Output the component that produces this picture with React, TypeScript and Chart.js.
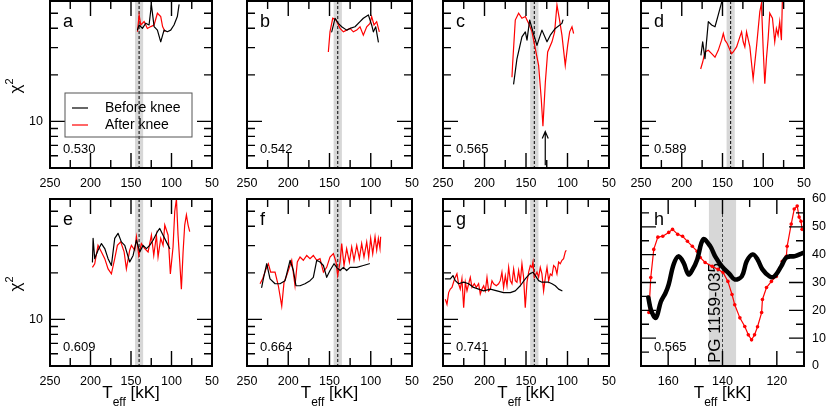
import { useEffect, useRef } from "react";
import { Chart, registerables } from "chart.js";

Chart.register(...registerables);

const FONT = "'Liberation Sans', Arial, Helvetica, sans-serif";

// panel letters and masses
const letters = ["a", "b", "c", "d", "e", "f", "g", "h"];
const masses = ["0.530", "0.542", "0.565", "0.589", "0.609", "0.664", "0.741", "0.565"];

// [Teff kK, chi^2]
const aBlack = [[142, 39], [140, 42.0], [135.9, 39.9], [131.8, 43.1], [127.7, 42.0], [124.8, 56.7], [121.5, 41.0], [117.4, 38.9], [113.3, 32.7], [109.2, 38.9], [105.1, 38.0], [101, 38.9], [96.9, 42.0], [92.8, 47.6], [90.7, 56.7]];
const aRed = [[142, 38.0], [140, 48.7], [137.9, 42.0], [133.8, 44.2], [129.8, 39.9], [125.6, 41.0], [121.5, 42.0], [117.4, 50.0], [113.3, 47.6], [111, 41.0], [107.9, 38.0]];

const bBlack = [[147.3, 37.9], [143.3, 46.4], [139.3, 43.0], [135.2, 40.9], [129.2, 38.9], [125.1, 39.9], [119.1, 40.9], [113.0, 44.1], [109, 46.4], [102.9, 48.8], [98.9, 42.0], [96.8, 37.9], [94, 40.9], [90.8, 32.7]];
const bRed = [[151.4, 28.1], [149.4, 37.9], [146.1, 46.4], [142.1, 45.2], [137.2, 39.9], [133.2, 37.9], [129.2, 38.9], [125.1, 39.9], [121.1, 37.9], [117.0, 38.9], [113.0, 40.9], [109.0, 36.1], [104.9, 40.9], [100.9, 43.0], [98.9, 47.6], [96.0, 42.0], [92.8, 44.1], [89.6, 37.9]];

const cBlack = [[164.9, 17.5], [160.9, 25.4], [154.9, 35.2], [150.8, 37.9], [148.8, 33.5], [145.6, 45.2], [141.6, 37.9], [136.8, 31.0], [130.8, 38.9], [124.7, 32.7], [120.7, 36.1], [114.7, 39.9], [106.7, 43.0], [105.5, 45.2]];
const cRed = [[166.9, 19.3], [166.1, 23.6], [162.9, 45.2], [158.9, 50.0], [154.9, 46.4], [150.8, 47.6], [146.8, 43.0], [142.8, 37.9], [138.8, 29.5], [134.8, 23.0], [131.6, 13.9], [129.6, 9.3], [126.7, 17.9], [123.9, 28.1], [118.7, 32.7], [115.5, 37.9], [112.7, 56.6], [109.9, 46.4], [106.7, 36.1], [102.7, 23.0], [99.8, 31.0], [97.4, 37.9], [94.6, 40.9], [92.6, 37.0]];

const dBlack = [[176.4, 26.9], [174.3, 32.7], [171.5, 25.4], [167.4, 44.1], [163.3, 42.0], [159.2, 40.9], [155.2, 48.8], [151.9, 56.6], [149.9, 62]];
const dRed = [[176.8, 21.8], [174.3, 24.2], [171.5, 28.1], [167.4, 28.8], [163.3, 27.4], [159.2, 26.0], [155.2, 28.8], [151.1, 33.5], [149.0, 37.0], [147.0, 33.5], [144.2, 31.9], [138.9, 27.4], [136.8, 28.1], [132.7, 30.3], [128.7, 35.2], [126.6, 37.9], [124.6, 32.7], [122.6, 30.3], [120.5, 37.9], [116.4, 30.3], [112.4, 18.8], [108.3, 30.3], [104.2, 51.3], [102.2, 58.0], [100.1, 29.5], [98.1, 17.5], [96.1, 25.4], [94.0, 34.3], [92.0, 50.0], [88.7, 46.4], [85.9, 32.7], [83.9, 39.9], [81.8, 36.1], [79.8, 44.1], [77.7, 33.5], [76.5, 62]];

const eBlack = [[197.6, 23.5], [196.8, 33.4], [194.8, 24.7], [190.7, 28.0], [186.5, 30.9], [182.4, 28.7], [178.3, 24.7], [174.2, 22.3], [170.1, 33.4], [166.0, 36.0], [161.9, 31.7], [157.7, 30.1], [151.6, 23.5], [147.4, 25.9], [143.3, 32.5], [139.2, 27.3], [135.1, 30.1], [131.0, 28.7], [126.9, 30.1], [122.8, 32.5], [117.4, 36.9], [114.5, 38.7], [110.4, 35.0], [106.3, 31.7], [102.2, 28.7]];
const eRed = [[197.6, 21.7], [194.8, 22.9], [190.7, 30.1], [186.5, 27.3], [182.4, 24.7], [178.3, 21.2], [174.2, 19.7], [170.1, 24.7], [166.8, 30.1], [162.7, 31.7], [158.5, 27.3], [155.7, 21.2], [151.6, 28.0], [149.5, 30.1], [145.4, 28.0], [143.3, 34.2], [140.4, 25.9], [137.2, 30.9], [133.0, 28.7], [128.9, 27.3], [124.8, 35.0], [121.9, 25.9], [118.6, 35.0], [116.6, 25.3], [113.3, 33.4], [110.4, 30.1], [108.3, 40.7], [104.2, 35.0], [101.4, 19.7], [98.1, 29.4], [96.0, 49.8], [93.9, 60], [91.9, 35.0], [89.8, 23.5], [87.8, 15.7], [85.7, 27.3], [83.7, 40.7], [81.6, 47.4], [79.5, 40.7], [77.5, 36.9]];

const fBlack = [[232.2, 16.1], [230.2, 18.3], [226.1, 22.9], [222.1, 18.3], [216.0, 17.0], [210.0, 17.0], [203.9, 17.8], [197.8, 24.1], [193.8, 20.7], [190.6, 16.5], [185.7, 16.5], [179.7, 17.0], [173.6, 17.8], [169.6, 18.7], [165.5, 24.1], [161.5, 23.5], [157.4, 22.3], [153.4, 18.7], [149.4, 20.7], [144.5, 22.9], [141.3, 21.7], [137.2, 20.7], [133.2, 21.7], [129.2, 20.7], [125.1, 21.7], [117.0, 21.7], [109.0, 22.3], [101.7, 22.9]];
const fRed = [[234.2, 17.0], [231.0, 18.3], [226.9, 21.2], [224.1, 22.9], [221.3, 20.2], [216.0, 20.2], [212.0, 16.5], [207.9, 12.2], [205.1, 17.4], [201.9, 19.2], [195.8, 24.1], [191.8, 16.5], [189.0, 23.5], [185.7, 25.3], [181.7, 24.1], [177.6, 25.9], [173.6, 24.7], [169.6, 25.9], [165.5, 24.1], [161.5, 24.7], [157.4, 20.2], [153.4, 21.7], [149.4, 25.3], [145.3, 26.6], [142.1, 23.5], [140.1, 19.2], [137.2, 23.5], [135.2, 30.9], [132.4, 22.3], [129.2, 28.7], [125.9, 23.5], [123.1, 29.4], [120.3, 24.1], [117.0, 30.1], [113.8, 24.7], [111.0, 30.9], [108.2, 25.3], [104.9, 31.7], [102.5, 25.3], [100.1, 33.4], [97.6, 26.6], [94.8, 34.2], [92.8, 28.0], [90.8, 33.4], [88.8, 28.7], [88.0, 34.2]];

const gBlack = [[247.2, 18.3], [241.2, 18.3], [238.0, 19.2], [235.2, 17.8], [231.2, 17.0], [225.1, 17.4], [219.1, 17.0], [213.1, 16.1], [207.1, 15.7], [201.0, 15.3], [193.0, 15.7], [185.0, 15.3], [177.0, 14.9], [168.9, 14.9], [162.9, 15.3], [156.9, 16.5], [150.9, 18.3], [145.6, 19.7], [141.6, 20.2], [138.8, 19.2], [134.8, 17.8], [130.8, 17.4], [126.7, 17.4], [122.7, 17.4], [118.7, 17.0], [114.7, 16.5], [110.7, 15.7], [106.7, 15.3]];
const gRed = [[247.2, 13.5], [245.2, 12.5], [243.2, 14.9], [241.2, 15.7], [239.2, 16.1], [236.0, 18.3], [233.2, 19.7], [231.2, 17.0], [229.2, 15.7], [227.2, 18.3], [225.1, 11.9], [223.1, 17.4], [221.1, 15.3], [219.1, 17.0], [217.1, 18.7], [215.1, 16.1], [212.3, 17.0], [209.9, 16.1], [207.1, 17.0], [205.1, 14.6], [203.1, 15.7], [201.0, 16.5], [199.0, 15.3], [197.0, 18.7], [195.0, 15.3], [193.0, 15.7], [191.0, 17.8], [189.0, 17.0], [185.8, 16.5], [183.0, 17.0], [181.0, 17.8], [179.0, 20.2], [177.0, 16.1], [174.9, 19.2], [172.9, 16.5], [170.9, 21.7], [168.9, 17.8], [166.9, 17.0], [164.9, 21.2], [162.9, 17.8], [160.9, 17.4], [158.9, 20.7], [156.9, 17.4], [154.9, 22.9], [152.9, 18.7], [150.9, 11.9], [148.8, 17.4], [146.8, 20.2], [144.8, 22.3], [142.8, 21.7], [141.6, 23.5], [140.0, 18.7], [136.8, 20.2], [134.8, 18.7], [132.8, 21.7], [130.8, 19.7], [128.8, 15.3], [126.7, 18.7], [124.7, 21.7], [122.7, 17.8], [120.7, 19.7], [118.7, 19.2], [116.7, 22.3], [114.7, 21.7], [112.7, 19.7], [110.7, 23.5], [108.7, 22.9], [106.7, 24.1], [104.7, 24.7], [102.7, 27.3], [101.5, 28.0]];

// panel h, chi^2 on linear 0-60 scale
const hBlack = [[167.3, 24.6], [166.3, 20], [164.5, 17.3], [162.7, 23.1], [160.9, 26.4], [159.8, 29.3], [158, 36.5], [156.2, 39.4], [154.4, 37.2], [152.5, 32.9], [151, 34.7], [149.3, 38.3], [147.1, 45.5], [144.5, 43], [142.7, 39.4], [140.2, 35.8], [137.3, 32.9], [135.5, 31.1], [132.9, 32.2], [131.1, 37.6], [128.9, 40.1], [127.1, 38.3], [125.3, 34.7], [122.7, 32.2], [120.9, 32.2], [118.4, 35.8], [116.5, 39], [113.6, 39.4], [110.7, 40.5], [110, 40.8]];
const hRed = [[167.1, 19.2], [166.4, 31.8], [165.3, 41.9], [163.8, 46.3], [162, 46.6], [159.8, 48], [158.4, 49.1], [156.5, 47.3], [154.7, 46.6], [152.9, 44.8], [151.1, 43], [149.3, 41.2], [148.2, 39], [146.4, 37.2], [143.8, 35.8], [141.6, 34.7], [139.8, 33.6], [138, 30.4], [136.5, 25.7], [135.5, 22], [133.6, 17.3], [131.8, 14.2], [130.5, 11.2], [129.3, 9.4], [128.2, 11.2], [127.1, 14.1], [125.6, 19.2], [125.3, 23.9], [123.8, 28.2], [122, 30.4], [120.2, 32.2], [119.1, 34.7], [118, 37.6], [116.5, 39.4], [116.2, 43], [114.7, 51], [113.6, 56.4], [112.5, 57.5], [111.8, 53.5], [111.1, 52], [110.7, 49.1]];

const blackSeries = [aBlack, bBlack, cBlack, dBlack, eBlack, fBlack, gBlack, hBlack];
const redSeries = [aRed, bRed, cRed, dRed, eRed, fRed, gRed, hRed];

// ticks
const wideMajor = [200, 150, 100];
const wideMinor = [225, 175, 125, 75];
const zoomMajor = [160, 140, 120];
const zoomMinor = [150, 130];
const logMajor = [10];
const logMinor = [6, 7, 8, 9, 20, 30, 40, 50];
const linMajor = [10, 20, 30, 40, 50];
const linMinor = [5, 15, 25, 35, 45, 55];

const knee = 140;
const kneeBand = [135, 145];
const arrowC = { t: 126.8, from: 5.2, to: 8.6 };

const boxes = [
  { l: 50, t: 1, w: 162, h: 167 },
  { l: 247, t: 1, w: 165, h: 167 },
  { l: 443, t: 1, w: 166, h: 167 },
  { l: 641, t: 1, w: 163, h: 167 },
  { l: 50, t: 199, w: 162, h: 167 },
  { l: 247, t: 199, w: 165, h: 167 },
  { l: 443, t: 199, w: 166, h: 167 },
  { l: 641, t: 199, w: 163, h: 167 },
];
const PAD = { l: 40, r: 30, b: 30 };
const padTop = (i: number) => (i < 4 ? 2 : 12);

// fixed box size, no label overflow padding
const fixSize = (dim: "width" | "height", size: number) => (s: any) => {
  s[dim] = size;
  s.paddingTop = 0;
  s.paddingBottom = 0;
  s.paddingLeft = 0;
  s.paddingRight = 0;
};

function Panel({ i }: { i: number }) {
  const ref = useRef<HTMLCanvasElement>(null);
  const box = boxes[i];
  const zoomed = i === 7;
  const pt = padTop(i);
  const cw = box.w + PAD.l + PAD.r;
  const ch = box.h + pt + PAD.b;

  useEffect(() => {
    if (!ref.current) return;
    const tickFont = { family: FONT, size: 12.5 };
    const toXY = (arr: number[][]) => arr.map(([x, y]) => ({ x, y }));

    const frame = {
      id: "frame",
      beforeDatasetsDraw(chart: any) {
        const { ctx, chartArea: a, scales } = chart;
        const xs = scales.x;
        ctx.save();
        ctx.beginPath();
        ctx.rect(a.left, a.top, a.right - a.left, a.bottom - a.top);
        ctx.clip();
        const b1 = xs.getPixelForValue(kneeBand[1]);
        const b2 = xs.getPixelForValue(kneeBand[0]);
        ctx.fillStyle = "#d7d7d7";
        ctx.fillRect(b1, a.top, b2 - b1, a.bottom - a.top);
        const xk = xs.getPixelForValue(knee);
        ctx.strokeStyle = zoomed ? "#444" : "#000";
        ctx.lineWidth = 1;
        ctx.setLineDash([3, 2]);
        ctx.beginPath();
        ctx.moveTo(xk, a.top);
        ctx.lineTo(xk, a.bottom);
        ctx.stroke();
        ctx.setLineDash([]);
        if (zoomed) {
          ctx.translate(xs.getPixelForValue(141.1), a.bottom - 3);
          ctx.rotate(-Math.PI / 2);
          ctx.fillStyle = "#000";
          ctx.font = `17px ${FONT}`;
          ctx.textAlign = "left";
          ctx.textBaseline = "alphabetic";
          ctx.fillText("PG 1159-035", 0, 0);
        }
        ctx.restore();
      },
      afterDraw(chart: any) {
        const { ctx, chartArea: a, scales } = chart;
        const xs = scales.x;
        const ys = scales.y;
        ctx.save();
        ctx.strokeStyle = "#000";
        ctx.lineWidth = 1.4;
        ctx.beginPath();
        const xM = zoomed ? zoomMajor : wideMajor;
        const xm = zoomed ? zoomMinor : wideMinor;
        const yM = zoomed ? linMajor : logMajor;
        const ym = zoomed ? linMinor : logMinor;
        ([[xM, 15], [xm, 8]] as [number[], number][]).forEach(([vals, len]) =>
          vals.forEach((v) => {
            const p = xs.getPixelForValue(v);
            ctx.moveTo(p, a.bottom);
            ctx.lineTo(p, a.bottom - len);
            ctx.moveTo(p, a.top);
            ctx.lineTo(p, a.top + len);
          })
        );
        ([[yM, 15], [ym, 8]] as [number[], number][]).forEach(([vals, len]) =>
          vals.forEach((v) => {
            const p = ys.getPixelForValue(v);
            ctx.moveTo(a.left, p);
            ctx.lineTo(a.left + len, p);
            ctx.moveTo(a.right, p);
            ctx.lineTo(a.right - len, p);
          })
        );
        ctx.stroke();
        ctx.lineWidth = 2;
        ctx.strokeRect(a.left, a.top, a.right - a.left, a.bottom - a.top);

        ctx.fillStyle = "#000";
        ctx.textAlign = "left";
        ctx.textBaseline = "middle";
        ctx.font = `18px ${FONT}`;
        ctx.fillText(letters[i], a.left + 13, a.top + 21);
        ctx.font = `13px ${FONT}`;
        ctx.fillText(masses[i], a.left + 13, a.bottom - 19);

        if (i === 2) {
          const ax = xs.getPixelForValue(arrowC.t);
          const y0 = ys.getPixelForValue(arrowC.from);
          const y1 = ys.getPixelForValue(arrowC.to);
          ctx.lineWidth = 1.2;
          ctx.beginPath();
          ctx.moveTo(ax, y0);
          ctx.lineTo(ax, y1);
          ctx.moveTo(ax - 3, y1 + 7);
          ctx.lineTo(ax, y1);
          ctx.lineTo(ax + 3, y1 + 7);
          ctx.stroke();
        }

        if (i === 0) {
          const lx = a.left + 15;
          const ly = a.top + 92;
          ctx.strokeStyle = "#555";
          ctx.lineWidth = 1;
          ctx.strokeRect(lx, ly, 127, 44);
          ctx.lineWidth = 1.2;
          ctx.strokeStyle = "#000";
          ctx.beginPath();
          ctx.moveTo(lx + 7, ly + 15);
          ctx.lineTo(lx + 23, ly + 15);
          ctx.stroke();
          ctx.strokeStyle = "#ff0000";
          ctx.beginPath();
          ctx.moveTo(lx + 7, ly + 32);
          ctx.lineTo(lx + 23, ly + 32);
          ctx.stroke();
          ctx.font = `14px ${FONT}`;
          ctx.fillText("Before knee", lx + 40, ly + 15);
          ctx.fillText("After knee", lx + 40, ly + 32);
        }
        ctx.restore();
      },
    };

    const scales: any = {
      x: {
        type: "linear",
        reverse: true,
        min: zoomed ? 110 : 50,
        max: zoomed ? 170 : 250,
        position: "bottom",
        afterFit: fixSize("height", PAD.b),
        grid: { display: false, drawTicks: false },
        border: { display: false },
        ticks: {
          autoSkip: false,
          stepSize: zoomed ? 10 : 50,
          includeBounds: false,
          maxRotation: 0,
          padding: 8,
          color: "#000",
          font: tickFont,
          callback: (v: number) => (zoomed ? (v % 20 === 0 ? String(v) : "") : String(v)),
        },
      },
      y: {
        type: zoomed ? "linear" : "logarithmic",
        min: zoomed ? 0 : 5,
        max: 60,
        position: "left",
        afterFit: fixSize("width", PAD.l),
        grid: { display: false, drawTicks: false },
        border: { display: false },
        ticks: {
          autoSkip: false,
          padding: 7,
          color: "#000",
          font: tickFont,
          callback: (v: number) => ((i === 0 || i === 4) && v === 10 ? "10" : ""),
        },
      },
    };
    if (zoomed) {
      scales.y2 = {
        type: "linear",
        min: 0,
        max: 60,
        position: "right",
        afterFit: fixSize("width", PAD.r),
        grid: { display: false, drawTicks: false },
        border: { display: false },
        ticks: { stepSize: 10, padding: 8, color: "#000", font: tickFont },
      };
    }

    const chart = new Chart(ref.current, {
      type: "line",
      data: {
        datasets: [
          {
            data: toXY(blackSeries[i]),
            borderColor: "#000",
            borderWidth: zoomed ? 4.5 : 1.2,
            tension: zoomed ? 0.35 : 0,
            pointRadius: 0,
            borderCapStyle: "round",
            borderJoinStyle: "round",
          },
          {
            data: toXY(redSeries[i]),
            borderColor: "#ff0000",
            backgroundColor: "#ff0000",
            borderWidth: 1.2,
            pointRadius: zoomed ? 1.8 : 0,
            pointBorderWidth: 0,
          },
        ],
      },
      options: {
        animation: false,
        responsive: false,
        events: [],
        layout: {
          autoPadding: false,
          padding: { top: pt, right: zoomed ? 0 : PAD.r, left: 0, bottom: 0 },
        },
        plugins: { legend: { display: false }, tooltip: { enabled: false } },
        scales,
      } as any,
      plugins: [frame],
    });
    return () => chart.destroy();
  }, [i]);

  return (
    <canvas
      ref={ref}
      width={cw}
      height={ch}
      style={{ position: "absolute", left: box.l - PAD.l, top: box.t - pt, width: cw, height: ch }}
    />
  );
}

export default function App() {
  return (
    <div
      style={{
        position: "absolute",
        left: 0,
        top: 0,
        width: 830,
        height: 414,
        overflow: "hidden",
        background: "#fff",
        fontFamily: FONT,
        color: "#000",
      }}
    >
      {boxes.map((_, i) => (
        <Panel key={i} i={i} />
      ))}
      {[0, 4].map((i) => (
        <div
          key={"yt" + i}
          style={{
            position: "absolute",
            left: 16,
            top: boxes[i].t + 85,
            transform: "translate(-50%, -50%) rotate(-90deg)",
            fontSize: 17,
            lineHeight: "17px",
            whiteSpace: "nowrap",
          }}
        >
          χ<span style={{ fontSize: 11, position: "relative", top: -8 }}>2</span>
        </div>
      ))}
      {[4, 5, 6, 7].map((i) => (
        <div
          key={"xt" + i}
          style={{
            position: "absolute",
            left: boxes[i].l + boxes[i].w / 2,
            top: 384,
            transform: "translateX(-50%)",
            fontSize: 17,
            lineHeight: "17px",
            whiteSpace: "nowrap",
          }}
        >
          T<span style={{ fontSize: 12, position: "relative", top: 8 }}>eff</span> [kK]
        </div>
      ))}
    </div>
  );
}
